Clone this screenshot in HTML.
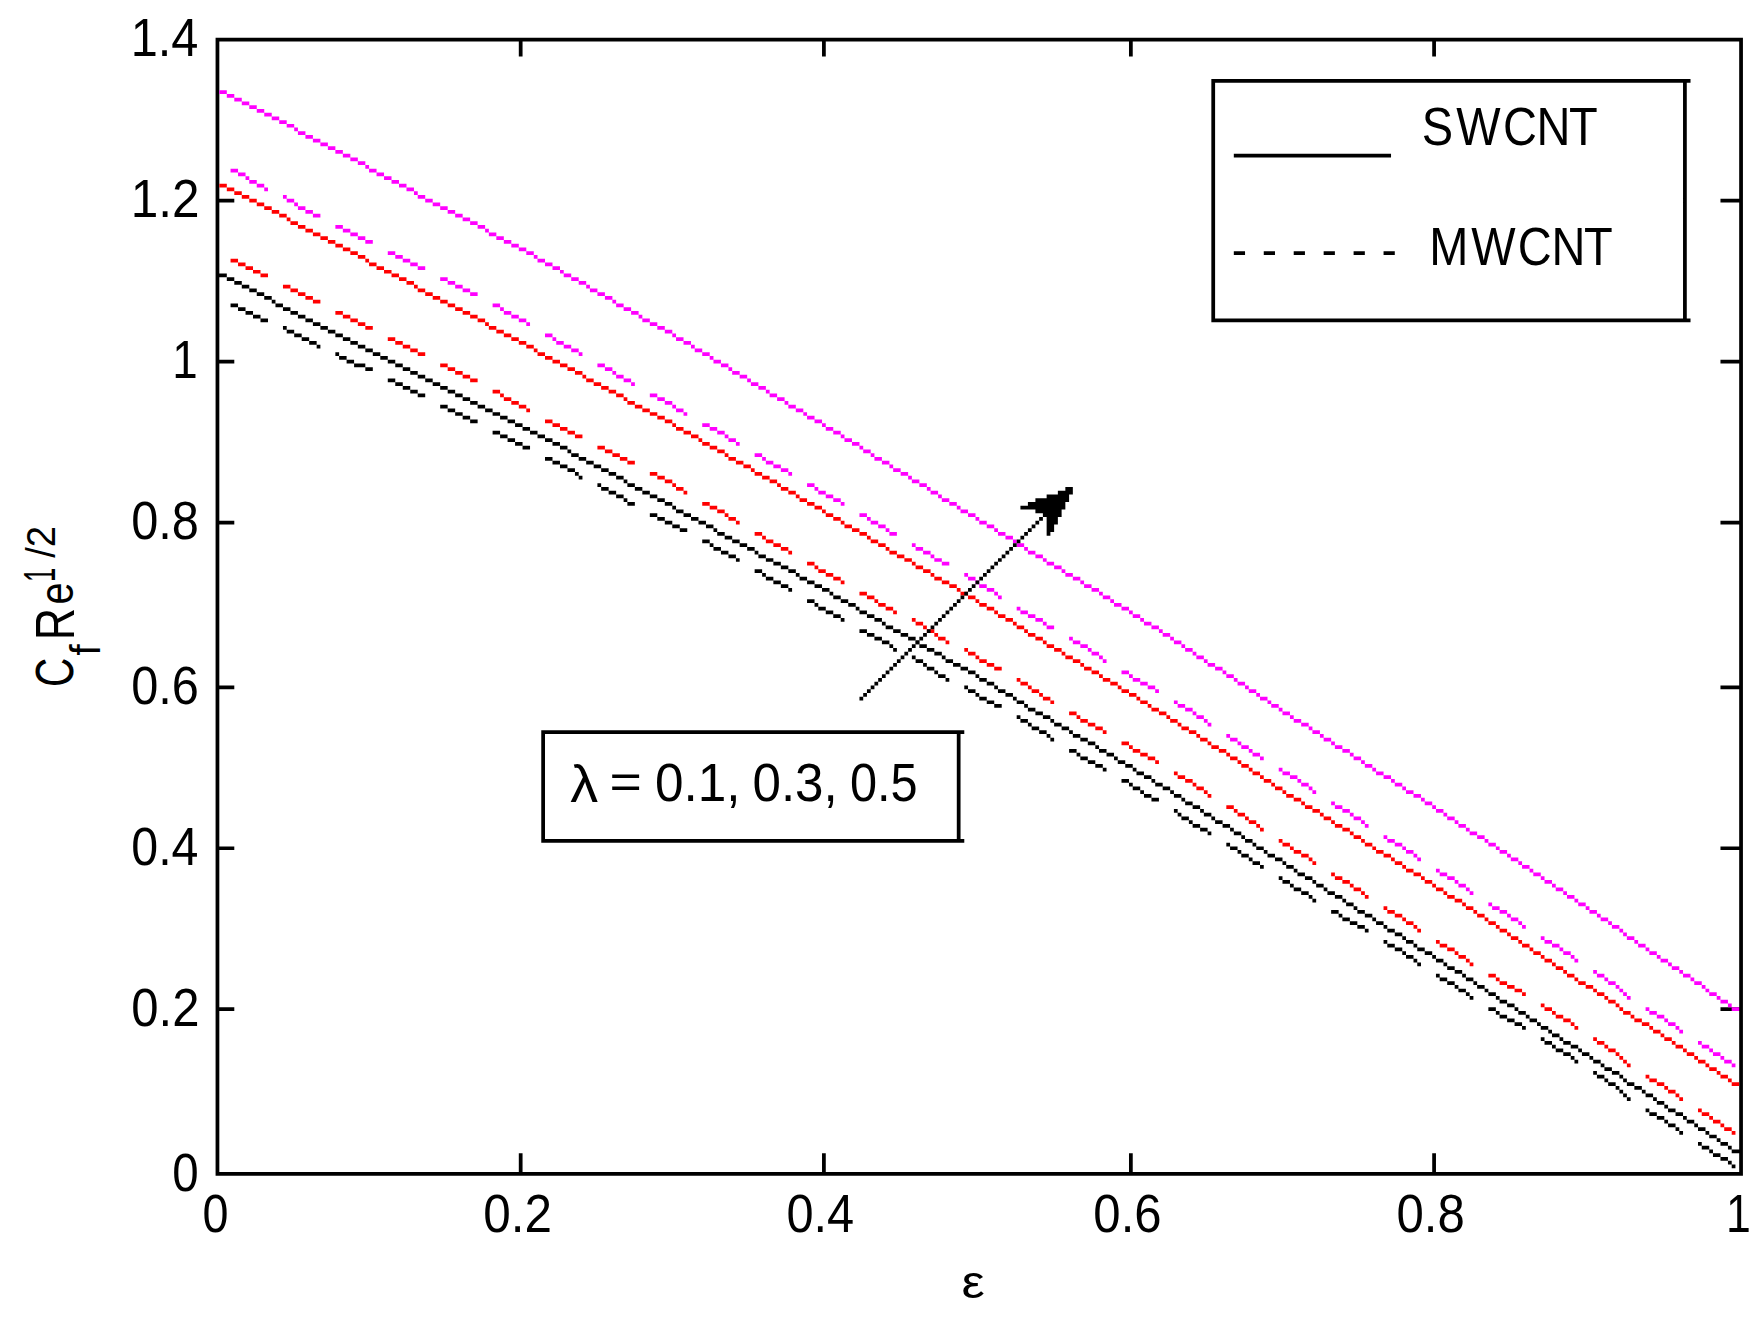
<!DOCTYPE html>
<html lang="en"><head><meta charset="utf-8"><title>Skin friction coefficient vs stretching parameter</title>
<style>html,body{margin:0;padding:0;background:#fff}svg{display:block}</style></head>
<body>
<svg width="1764" height="1329" viewBox="0 0 1764 1329">
<rect width="1764" height="1329" fill="#fff"/>
<g transform="translate(215.58,37.78) scale(3.7435)">
<path fill="#000" d="M0 0h408v1h-408zM0 303h408v1h-408zM0 0h1v304h-1zM407 0h1v304h-1zM81 1h1v4h-1zM81 298h1v5h-1zM162 1h1v4h-1zM162 298h1v5h-1zM244 1h1v4h-1zM244 298h1v5h-1zM325 1h1v4h-1zM325 298h1v5h-1zM1 43h4v1h-4zM402 43h5v1h-5zM1 86h4v1h-4zM402 86h5v1h-5zM1 129h4v1h-4zM402 129h5v1h-5zM1 173h4v1h-4zM402 173h5v1h-5zM1 216h4v1h-4zM402 216h5v1h-5zM1 259h4v1h-4zM402 259h5v1h-5zM1 63h2v1h-2zM3 64h2v1h-2zM5 65h2v1h-2zM7 66h2v1h-2zM9 67h2v1h-2zM11 68h2v1h-2zM13 69h2v1h-2zM15 70h1v1h-1zM16 71h2v1h-2zM18 72h2v1h-2zM20 73h2v1h-2zM22 74h2v1h-2zM24 75h2v1h-2zM26 76h2v1h-2zM28 77h2v1h-2zM30 78h2v1h-2zM32 79h2v1h-2zM34 80h2v1h-2zM36 81h2v1h-2zM38 82h2v1h-2zM40 83h2v1h-2zM42 84h2v1h-2zM44 85h2v1h-2zM46 86h2v1h-2zM48 87h2v1h-2zM50 88h2v1h-2zM52 89h2v1h-2zM54 90h2v1h-2zM56 91h2v1h-2zM58 92h2v1h-2zM60 93h2v1h-2zM62 94h2v1h-2zM64 95h2v1h-2zM66 96h2v1h-2zM68 97h2v1h-2zM70 98h2v1h-2zM72 99h2v1h-2zM74 100h2v1h-2zM76 101h2v1h-2zM78 102h2v1h-2zM80 103h2v1h-2zM82 104h2v1h-2zM84 105h2v1h-2zM86 106h2v1h-2zM88 107h2v1h-2zM90 108h2v1h-2zM92 109h2v1h-2zM94 110h1v1h-1zM95 111h2v1h-2zM97 112h2v1h-2zM99 113h2v1h-2zM101 114h2v1h-2zM103 115h2v1h-2zM105 116h2v1h-2zM107 117h2v1h-2zM109 118h1v1h-1zM110 119h2v1h-2zM112 120h2v1h-2zM114 121h2v1h-2zM116 122h2v1h-2zM118 123h2v1h-2zM120 124h2v1h-2zM122 125h1v1h-1zM123 126h2v1h-2zM125 127h2v1h-2zM127 128h2v1h-2zM129 129h2v1h-2zM131 130h2v1h-2zM133 131h1v1h-1zM134 132h2v1h-2zM136 133h2v1h-2zM138 134h2v1h-2zM140 135h2v1h-2zM142 136h2v1h-2zM144 137h1v1h-1zM145 138h2v1h-2zM147 139h2v1h-2zM149 140h2v1h-2zM151 141h2v1h-2zM153 142h2v1h-2zM155 143h1v1h-1zM156 144h2v1h-2zM158 145h2v1h-2zM160 146h2v1h-2zM162 147h2v1h-2zM164 148h1v1h-1zM165 149h2v1h-2zM167 150h2v1h-2zM169 151h2v1h-2zM171 152h1v1h-1zM172 153h2v1h-2zM174 154h2v1h-2zM176 155h2v1h-2zM178 156h1v1h-1zM179 157h2v1h-2zM181 158h2v1h-2zM183 159h2v1h-2zM185 160h2v1h-2zM187 161h1v1h-1zM188 162h2v1h-2zM190 163h2v1h-2zM192 164h2v1h-2zM194 165h1v1h-1zM195 166h2v1h-2zM197 167h2v1h-2zM199 168h2v1h-2zM201 169h2v1h-2zM203 170h1v1h-1zM204 171h2v1h-2zM206 172h2v1h-2zM208 173h1v1h-1zM209 174h2v1h-2zM211 175h2v1h-2zM213 176h1v1h-1zM214 177h2v1h-2zM216 178h1v1h-1zM217 179h2v1h-2zM219 180h2v1h-2zM221 181h2v1h-2zM223 182h1v1h-1zM224 183h2v1h-2zM226 184h2v1h-2zM228 185h1v1h-1zM229 186h2v1h-2zM231 187h2v1h-2zM233 188h2v1h-2zM235 189h1v1h-1zM236 190h2v1h-2zM238 191h2v1h-2zM240 192h1v1h-1zM241 193h2v1h-2zM243 194h2v1h-2zM245 195h1v1h-1zM246 196h2v1h-2zM248 197h2v1h-2zM250 198h1v1h-1zM251 199h2v1h-2zM253 200h2v1h-2zM255 201h1v1h-1zM256 202h2v1h-2zM258 203h1v1h-1zM259 204h2v1h-2zM261 205h2v1h-2zM263 206h1v1h-1zM264 207h2v1h-2zM266 208h1v1h-1zM267 209h2v1h-2zM269 210h2v1h-2zM271 211h1v1h-1zM272 212h2v1h-2zM274 213h1v1h-1zM275 214h2v1h-2zM277 215h1v1h-1zM278 216h2v1h-2zM280 217h1v1h-1zM281 218h2v1h-2zM283 219h2v1h-2zM285 220h1v1h-1zM286 221h2v1h-2zM288 222h1v1h-1zM289 223h2v1h-2zM291 224h2v1h-2zM293 225h1v1h-1zM294 226h2v1h-2zM296 227h1v1h-1zM297 228h2v1h-2zM299 229h2v1h-2zM301 230h1v1h-1zM302 231h2v1h-2zM304 232h1v1h-1zM305 233h2v1h-2zM307 234h2v1h-2zM309 235h1v1h-1zM310 236h2v1h-2zM312 237h1v1h-1zM313 238h2v1h-2zM315 239h2v1h-2zM317 240h1v1h-1zM318 241h2v1h-2zM320 242h1v1h-1zM321 243h2v1h-2zM323 244h2v1h-2zM325 245h1v1h-1zM326 246h2v1h-2zM328 247h1v1h-1zM329 248h2v1h-2zM331 249h2v1h-2zM333 250h1v1h-1zM334 251h2v1h-2zM336 252h1v1h-1zM337 253h2v1h-2zM339 254h1v1h-1zM340 255h2v1h-2zM342 256h1v1h-1zM343 257h2v1h-2zM345 258h2v1h-2zM347 259h1v1h-1zM348 260h2v1h-2zM350 261h1v1h-1zM351 262h2v1h-2zM353 263h1v1h-1zM354 264h2v1h-2zM356 265h1v1h-1zM357 266h2v1h-2zM359 267h1v1h-1zM360 268h2v1h-2zM362 269h2v1h-2zM364 270h1v1h-1zM365 271h2v1h-2zM367 272h1v1h-1zM368 273h2v1h-2zM370 274h1v1h-1zM371 275h2v1h-2zM373 276h2v1h-2zM375 277h1v1h-1zM376 278h1v1h-1zM377 279h2v1h-2zM379 280h2v1h-2zM381 281h1v1h-1zM382 282h2v1h-2zM384 283h1v1h-1zM385 284h2v1h-2zM387 285h1v1h-1zM388 286h2v1h-2zM390 287h2v1h-2zM392 288h1v1h-1zM393 289h2v1h-2zM395 290h1v1h-1zM396 291h2v1h-2zM398 292h1v1h-1zM399 293h2v1h-2zM401 294h1v1h-1zM402 295h2v1h-2zM404 296h1v1h-1zM405 297h2v1h-2zM4 71h2v1h-2zM6 72h2v1h-2zM8 73h2v1h-2zM10 74h2v1h-2zM12 75h2v1h-2zM18 77h1v1h-1zM19 78h2v1h-2zM21 79h2v1h-2zM23 80h2v1h-2zM25 81h2v1h-2zM27 82h1v1h-1zM32 84h1v1h-1zM33 85h2v1h-2zM35 86h2v1h-2zM37 87h3v1h-3zM40 88h2v1h-2zM46 91h2v1h-2zM48 92h2v1h-2zM50 93h2v1h-2zM52 94h2v1h-2zM54 95h2v1h-2zM60 98h2v1h-2zM62 99h2v1h-2zM64 100h2v1h-2zM66 101h2v1h-2zM68 102h2v1h-2zM74 105h2v1h-2zM76 106h2v1h-2zM78 107h2v1h-2zM80 108h2v1h-2zM82 109h2v1h-2zM88 112h2v1h-2zM90 113h2v1h-2zM92 114h2v1h-2zM94 115h2v1h-2zM96 116h1v1h-1zM97 117h1v1h-1zM102 119h1v1h-1zM103 120h2v1h-2zM105 121h2v1h-2zM107 122h2v1h-2zM109 123h1v1h-1zM110 124h2v1h-2zM116 127h2v1h-2zM118 128h2v1h-2zM120 129h2v1h-2zM122 130h2v1h-2zM124 131h2v1h-2zM130 134h2v1h-2zM132 135h1v1h-1zM133 136h2v1h-2zM135 137h2v1h-2zM137 138h2v1h-2zM139 139h1v1h-1zM144 142h2v1h-2zM146 143h1v1h-1zM147 144h2v1h-2zM149 145h2v1h-2zM151 146h2v1h-2zM153 147h1v1h-1zM158 150h2v1h-2zM160 151h1v1h-1zM161 152h2v1h-2zM163 153h2v1h-2zM165 154h2v1h-2zM167 155h1v1h-1zM172 158h2v1h-2zM174 159h2v1h-2zM176 160h2v1h-2zM178 161h2v1h-2zM180 162h1v1h-1zM181 163h1v1h-1zM186 165h1v1h-1zM187 166h2v1h-2zM189 167h1v1h-1zM190 168h2v1h-2zM192 169h1v1h-1zM193 170h2v1h-2zM195 171h1v1h-1zM200 173h1v1h-1zM201 174h2v1h-2zM203 175h1v1h-1zM204 176h2v1h-2zM206 177h2v1h-2zM208 178h2v1h-2zM214 181h1v1h-1zM215 182h2v1h-2zM217 183h1v1h-1zM218 184h2v1h-2zM220 185h2v1h-2zM222 186h1v1h-1zM223 187h1v1h-1zM228 190h2v1h-2zM230 191h1v1h-1zM231 192h2v1h-2zM233 193h2v1h-2zM235 194h2v1h-2zM237 195h1v1h-1zM242 198h2v1h-2zM244 199h1v1h-1zM245 200h2v1h-2zM247 201h1v1h-1zM248 202h2v1h-2zM250 203h2v1h-2zM256 206h1v1h-1zM257 207h1v1h-1zM258 208h2v1h-2zM260 209h1v1h-1zM261 210h2v1h-2zM263 211h2v1h-2zM265 212h1v1h-1zM270 215h1v1h-1zM271 216h2v1h-2zM273 217h1v1h-1zM274 218h2v1h-2zM276 219h1v1h-1zM277 220h2v1h-2zM279 221h1v1h-1zM284 224h1v1h-1zM285 225h2v1h-2zM287 226h1v1h-1zM288 227h2v1h-2zM290 228h2v1h-2zM292 229h1v1h-1zM293 230h1v1h-1zM298 233h2v1h-2zM300 234h1v1h-1zM301 235h2v1h-2zM303 236h2v1h-2zM305 237h2v1h-2zM307 238h1v1h-1zM312 241h1v1h-1zM313 242h2v1h-2zM315 243h2v1h-2zM317 244h1v1h-1zM318 245h2v1h-2zM320 246h1v1h-1zM321 247h1v1h-1zM326 250h1v1h-1zM327 251h2v1h-2zM329 252h2v1h-2zM331 253h1v1h-1zM332 254h2v1h-2zM334 255h1v1h-1zM335 256h1v1h-1zM340 259h2v1h-2zM342 260h1v1h-1zM343 261h2v1h-2zM345 262h2v1h-2zM347 263h2v1h-2zM349 264h1v1h-1zM354 267h1v1h-1zM355 268h2v1h-2zM357 269h1v1h-1zM358 270h2v1h-2zM360 271h2v1h-2zM362 272h1v1h-1zM363 273h1v1h-1zM368 276h1v1h-1zM369 277h2v1h-2zM371 278h1v1h-1zM372 279h2v1h-2zM374 280h1v1h-1zM375 281h1v1h-1zM376 282h1v1h-1zM377 283h1v1h-1zM382 286h1v1h-1zM383 287h2v1h-2zM385 288h2v1h-2zM387 289h1v1h-1zM388 290h2v1h-2zM390 291h1v1h-1zM391 292h1v1h-1zM396 295h1v1h-1zM397 296h2v1h-2zM399 297h1v1h-1zM400 298h2v1h-2zM402 299h2v1h-2zM404 300h1v1h-1zM405 301h1v1h-1zM266 11h128v1h-128zM266 75h128v1h-128zM266 11h1v65h-1zM392 11h1v65h-1zM272 31h42v1h-42zM272 57h3v1h-3zM280 57h3v1h-3zM288 57h3v1h-3zM296 57h3v1h-3zM304 57h3v1h-3zM312 57h3v1h-3zM87 185h113v1h-113zM87 214h113v1h-113zM87 185h1v30h-1zM198 185h1v30h-1z"/>
<path fill="#f00" d="M1 39h2v1h-2zM3 40h2v1h-2zM5 41h2v1h-2zM7 42h2v1h-2zM9 43h2v1h-2zM11 44h2v1h-2zM13 45h2v1h-2zM15 46h2v1h-2zM17 47h2v1h-2zM19 48h1v1h-1zM20 49h2v1h-2zM22 50h2v1h-2zM24 51h2v1h-2zM26 52h2v1h-2zM28 53h2v1h-2zM30 54h2v1h-2zM32 55h2v1h-2zM34 56h2v1h-2zM36 57h2v1h-2zM38 58h2v1h-2zM40 59h1v1h-1zM41 60h2v1h-2zM43 61h2v1h-2zM45 62h2v1h-2zM47 63h2v1h-2zM49 64h2v1h-2zM51 65h2v1h-2zM53 66h1v1h-1zM54 67h2v1h-2zM56 68h2v1h-2zM58 69h2v1h-2zM60 70h2v1h-2zM62 71h2v1h-2zM64 72h2v1h-2zM66 73h2v1h-2zM68 74h2v1h-2zM70 75h2v1h-2zM72 76h1v1h-1zM73 77h2v1h-2zM75 78h2v1h-2zM77 79h2v1h-2zM79 80h2v1h-2zM81 81h2v1h-2zM83 82h2v1h-2zM85 83h1v1h-1zM86 84h2v1h-2zM88 85h2v1h-2zM90 86h2v1h-2zM92 87h2v1h-2zM94 88h2v1h-2zM96 89h2v1h-2zM98 90h1v1h-1zM99 91h2v1h-2zM101 92h2v1h-2zM103 93h2v1h-2zM105 94h2v1h-2zM107 95h2v1h-2zM109 96h1v1h-1zM110 97h2v1h-2zM112 98h2v1h-2zM114 99h2v1h-2zM116 100h2v1h-2zM118 101h2v1h-2zM120 102h2v1h-2zM122 103h1v1h-1zM123 104h2v1h-2zM125 105h2v1h-2zM127 106h2v1h-2zM129 107h1v1h-1zM130 108h2v1h-2zM132 109h2v1h-2zM134 110h2v1h-2zM136 111h1v1h-1zM137 112h2v1h-2zM139 113h2v1h-2zM141 114h2v1h-2zM143 115h1v1h-1zM144 116h2v1h-2zM146 117h2v1h-2zM148 118h2v1h-2zM150 119h1v1h-1zM151 120h2v1h-2zM153 121h2v1h-2zM155 122h1v1h-1zM156 123h2v1h-2zM158 124h2v1h-2zM160 125h2v1h-2zM162 126h1v1h-1zM163 127h2v1h-2zM165 128h2v1h-2zM167 129h1v1h-1zM168 130h2v1h-2zM170 131h2v1h-2zM172 132h2v1h-2zM174 133h1v1h-1zM175 134h2v1h-2zM177 135h2v1h-2zM179 136h1v1h-1zM180 137h2v1h-2zM182 138h2v1h-2zM184 139h2v1h-2zM186 140h1v1h-1zM187 141h2v1h-2zM189 142h2v1h-2zM191 143h1v1h-1zM192 144h2v1h-2zM194 145h2v1h-2zM196 146h2v1h-2zM198 147h1v1h-1zM199 148h2v1h-2zM201 149h2v1h-2zM203 150h1v1h-1zM204 151h2v1h-2zM206 152h2v1h-2zM208 153h1v1h-1zM209 154h2v1h-2zM211 155h2v1h-2zM213 156h1v1h-1zM214 157h2v1h-2zM216 158h1v1h-1zM217 159h2v1h-2zM219 160h2v1h-2zM221 161h1v1h-1zM222 162h2v1h-2zM224 163h2v1h-2zM226 164h1v1h-1zM227 165h2v1h-2zM229 166h2v1h-2zM231 167h1v1h-1zM232 168h2v1h-2zM234 169h2v1h-2zM236 170h1v1h-1zM237 171h2v1h-2zM239 172h2v1h-2zM241 173h1v1h-1zM242 174h2v1h-2zM244 175h2v1h-2zM246 176h1v1h-1zM247 177h2v1h-2zM249 178h1v1h-1zM250 179h2v1h-2zM252 180h2v1h-2zM254 181h1v1h-1zM255 182h2v1h-2zM257 183h1v1h-1zM258 184h2v1h-2zM260 185h2v1h-2zM262 186h1v1h-1zM263 187h2v1h-2zM265 188h1v1h-1zM266 189h2v1h-2zM268 190h2v1h-2zM270 191h1v1h-1zM271 192h2v1h-2zM273 193h1v1h-1zM274 194h2v1h-2zM276 195h1v1h-1zM277 196h2v1h-2zM279 197h1v1h-1zM280 198h2v1h-2zM282 199h1v1h-1zM283 200h2v1h-2zM285 201h1v1h-1zM286 202h2v1h-2zM288 203h2v1h-2zM290 204h1v1h-1zM291 205h2v1h-2zM293 206h2v1h-2zM295 207h1v1h-1zM296 208h2v1h-2zM298 209h1v1h-1zM299 210h2v1h-2zM301 211h2v1h-2zM303 212h1v1h-1zM304 213h2v1h-2zM306 214h1v1h-1zM307 215h2v1h-2zM309 216h1v1h-1zM310 217h2v1h-2zM312 218h2v1h-2zM314 219h1v1h-1zM315 220h2v1h-2zM317 221h1v1h-1zM318 222h2v1h-2zM320 223h2v1h-2zM322 224h1v1h-1zM323 225h2v1h-2zM325 226h1v1h-1zM326 227h2v1h-2zM328 228h1v1h-1zM329 229h2v1h-2zM331 230h2v1h-2zM333 231h1v1h-1zM334 232h2v1h-2zM336 233h1v1h-1zM337 234h2v1h-2zM339 235h1v1h-1zM340 236h2v1h-2zM342 237h1v1h-1zM343 238h2v1h-2zM345 239h1v1h-1zM346 240h2v1h-2zM348 241h1v1h-1zM349 242h2v1h-2zM351 243h1v1h-1zM352 244h2v1h-2zM354 245h1v1h-1zM355 246h2v1h-2zM357 247h1v1h-1zM358 248h2v1h-2zM360 249h1v1h-1zM361 250h2v1h-2zM363 251h1v1h-1zM364 252h2v1h-2zM366 253h2v1h-2zM368 254h1v1h-1zM369 255h2v1h-2zM371 256h1v1h-1zM372 257h2v1h-2zM374 258h1v1h-1zM375 259h1v1h-1zM376 260h2v1h-2zM378 261h1v1h-1zM379 262h2v1h-2zM381 263h2v1h-2zM383 264h1v1h-1zM384 265h2v1h-2zM386 266h1v1h-1zM387 267h2v1h-2zM389 268h1v1h-1zM390 269h2v1h-2zM392 270h1v1h-1zM393 271h2v1h-2zM395 272h1v1h-1zM396 273h2v1h-2zM398 274h1v1h-1zM399 275h2v1h-2zM401 276h1v1h-1zM402 277h2v1h-2zM404 278h1v1h-1zM405 279h2v1h-2zM4 59h2v1h-2zM6 60h2v1h-2zM8 61h2v1h-2zM10 62h2v1h-2zM12 63h2v1h-2zM18 66h2v1h-2zM20 67h2v1h-2zM22 68h2v1h-2zM24 69h2v1h-2zM26 70h2v1h-2zM32 73h2v1h-2zM34 74h2v1h-2zM36 75h2v1h-2zM38 76h2v1h-2zM40 77h2v1h-2zM46 80h2v1h-2zM48 81h2v1h-2zM50 82h2v1h-2zM52 83h2v1h-2zM54 84h2v1h-2zM60 87h2v1h-2zM62 88h2v1h-2zM64 89h2v1h-2zM66 90h2v1h-2zM68 91h2v1h-2zM74 94h2v1h-2zM76 95h1v1h-1zM77 96h2v1h-2zM79 97h2v1h-2zM81 98h2v1h-2zM83 99h1v1h-1zM88 102h2v1h-2zM90 103h2v1h-2zM92 104h2v1h-2zM94 105h2v1h-2zM96 106h2v1h-2zM102 109h2v1h-2zM104 110h2v1h-2zM106 111h2v1h-2zM108 112h2v1h-2zM110 113h2v1h-2zM116 116h2v1h-2zM118 117h2v1h-2zM120 118h2v1h-2zM122 119h1v1h-1zM123 120h2v1h-2zM125 121h1v1h-1zM130 124h2v1h-2zM132 125h2v1h-2zM134 126h2v1h-2zM136 127h1v1h-1zM137 128h2v1h-2zM139 129h1v1h-1zM144 132h2v1h-2zM146 133h1v1h-1zM147 134h2v1h-2zM149 135h2v1h-2zM151 136h2v1h-2zM153 137h1v1h-1zM158 140h2v1h-2zM160 141h1v1h-1zM161 142h2v1h-2zM163 143h2v1h-2zM165 144h2v1h-2zM167 145h1v1h-1zM172 148h2v1h-2zM174 149h2v1h-2zM176 150h1v1h-1zM177 151h2v1h-2zM179 152h2v1h-2zM181 153h1v1h-1zM186 155h1v1h-1zM187 156h2v1h-2zM189 157h1v1h-1zM190 158h2v1h-2zM192 159h1v1h-1zM193 160h2v1h-2zM195 161h1v1h-1zM200 163h1v1h-1zM201 164h2v1h-2zM203 165h1v1h-1zM204 166h2v1h-2zM206 167h2v1h-2zM208 168h2v1h-2zM214 171h1v1h-1zM215 172h2v1h-2zM217 173h1v1h-1zM218 174h2v1h-2zM220 175h1v1h-1zM221 176h2v1h-2zM223 177h1v1h-1zM228 180h2v1h-2zM230 181h1v1h-1zM231 182h2v1h-2zM233 183h2v1h-2zM235 184h2v1h-2zM237 185h1v1h-1zM242 188h2v1h-2zM244 189h1v1h-1zM245 190h2v1h-2zM247 191h2v1h-2zM249 192h2v1h-2zM251 193h1v1h-1zM256 196h1v1h-1zM257 197h2v1h-2zM259 198h2v1h-2zM261 199h1v1h-1zM262 200h2v1h-2zM264 201h1v1h-1zM265 202h1v1h-1zM270 205h2v1h-2zM272 206h1v1h-1zM273 207h2v1h-2zM275 208h1v1h-1zM276 209h2v1h-2zM278 210h1v1h-1zM279 211h1v1h-1zM284 214h1v1h-1zM285 215h2v1h-2zM287 216h1v1h-1zM288 217h2v1h-2zM290 218h2v1h-2zM292 219h1v1h-1zM293 220h1v1h-1zM298 223h1v1h-1zM299 224h2v1h-2zM301 225h2v1h-2zM303 226h1v1h-1zM304 227h2v1h-2zM306 228h1v1h-1zM307 229h1v1h-1zM312 232h1v1h-1zM313 233h2v1h-2zM315 234h2v1h-2zM317 235h1v1h-1zM318 236h2v1h-2zM320 237h1v1h-1zM321 238h1v1h-1zM326 241h1v1h-1zM327 242h2v1h-2zM329 243h2v1h-2zM331 244h1v1h-1zM332 245h2v1h-2zM334 246h1v1h-1zM335 247h1v1h-1zM340 250h2v1h-2zM342 251h1v1h-1zM343 252h2v1h-2zM345 253h2v1h-2zM347 254h2v1h-2zM349 255h1v1h-1zM354 258h1v1h-1zM355 259h2v1h-2zM357 260h1v1h-1zM358 261h2v1h-2zM360 262h2v1h-2zM362 263h1v1h-1zM363 264h1v1h-1zM368 267h1v1h-1zM369 268h2v1h-2zM371 269h1v1h-1zM372 270h2v1h-2zM374 271h1v1h-1zM375 272h1v1h-1zM376 273h1v1h-1zM377 274h1v1h-1zM382 277h1v1h-1zM383 278h2v1h-2zM385 279h2v1h-2zM387 280h1v1h-1zM388 281h2v1h-2zM390 282h1v1h-1zM391 283h1v1h-1zM396 286h1v1h-1zM397 287h2v1h-2zM399 288h1v1h-1zM400 289h2v1h-2zM402 290h1v1h-1zM403 291h2v1h-2zM405 292h1v1h-1z"/>
<path fill="#f0f" d="M1 14h2v1h-2zM3 15h2v1h-2zM5 16h2v1h-2zM7 17h2v1h-2zM9 18h2v1h-2zM11 19h2v1h-2zM13 20h2v1h-2zM15 21h2v1h-2zM17 22h2v1h-2zM19 23h2v1h-2zM21 24h1v1h-1zM22 25h2v1h-2zM24 26h2v1h-2zM26 27h2v1h-2zM28 28h2v1h-2zM30 29h2v1h-2zM32 30h2v1h-2zM34 31h2v1h-2zM36 32h2v1h-2zM38 33h2v1h-2zM40 34h1v1h-1zM41 35h2v1h-2zM43 36h2v1h-2zM45 37h2v1h-2zM47 38h2v1h-2zM49 39h2v1h-2zM51 40h2v1h-2zM53 41h1v1h-1zM54 42h2v1h-2zM56 43h2v1h-2zM58 44h2v1h-2zM60 45h2v1h-2zM62 46h2v1h-2zM64 47h2v1h-2zM66 48h2v1h-2zM68 49h2v1h-2zM70 50h2v1h-2zM72 51h1v1h-1zM73 52h2v1h-2zM75 53h2v1h-2zM77 54h2v1h-2zM79 55h2v1h-2zM81 56h2v1h-2zM83 57h2v1h-2zM85 58h1v1h-1zM86 59h2v1h-2zM88 60h2v1h-2zM90 61h2v1h-2zM92 62h1v1h-1zM93 63h2v1h-2zM95 64h2v1h-2zM97 65h2v1h-2zM99 66h1v1h-1zM100 67h2v1h-2zM102 68h2v1h-2zM104 69h2v1h-2zM106 70h1v1h-1zM107 71h2v1h-2zM109 72h2v1h-2zM111 73h2v1h-2zM113 74h1v1h-1zM114 75h2v1h-2zM116 76h2v1h-2zM118 77h2v1h-2zM120 78h2v1h-2zM122 79h1v1h-1zM123 80h2v1h-2zM125 81h2v1h-2zM127 82h1v1h-1zM128 83h2v1h-2zM130 84h2v1h-2zM132 85h1v1h-1zM133 86h2v1h-2zM135 87h2v1h-2zM137 88h1v1h-1zM138 89h2v1h-2zM140 90h2v1h-2zM142 91h1v1h-1zM143 92h2v1h-2zM145 93h2v1h-2zM147 94h1v1h-1zM148 95h2v1h-2zM150 96h2v1h-2zM152 97h1v1h-1zM153 98h2v1h-2zM155 99h2v1h-2zM157 100h1v1h-1zM158 101h2v1h-2zM160 102h2v1h-2zM162 103h1v1h-1zM163 104h2v1h-2zM165 105h2v1h-2zM167 106h1v1h-1zM168 107h2v1h-2zM170 108h2v1h-2zM172 109h1v1h-1zM173 110h2v1h-2zM175 111h1v1h-1zM176 112h2v1h-2zM178 113h2v1h-2zM180 114h1v1h-1zM181 115h2v1h-2zM183 116h2v1h-2zM185 117h1v1h-1zM186 118h2v1h-2zM188 119h2v1h-2zM190 120h1v1h-1zM191 121h2v1h-2zM193 122h1v1h-1zM194 123h2v1h-2zM196 124h2v1h-2zM198 125h1v1h-1zM199 126h2v1h-2zM201 127h2v1h-2zM203 128h1v1h-1zM204 129h2v1h-2zM206 130h2v1h-2zM208 131h1v1h-1zM209 132h2v1h-2zM211 133h2v1h-2zM213 134h1v1h-1zM214 135h2v1h-2zM216 136h1v1h-1zM217 137h2v1h-2zM219 138h2v1h-2zM221 139h1v1h-1zM222 140h2v1h-2zM224 141h2v1h-2zM226 142h1v1h-1zM227 143h2v1h-2zM229 144h2v1h-2zM231 145h1v1h-1zM232 146h2v1h-2zM234 147h2v1h-2zM236 148h1v1h-1zM237 149h2v1h-2zM239 150h1v1h-1zM240 151h2v1h-2zM242 152h2v1h-2zM244 153h1v1h-1zM245 154h2v1h-2zM247 155h1v1h-1zM248 156h2v1h-2zM250 157h2v1h-2zM252 158h1v1h-1zM253 159h2v1h-2zM255 160h1v1h-1zM256 161h2v1h-2zM258 162h1v1h-1zM259 163h2v1h-2zM261 164h1v1h-1zM262 165h2v1h-2zM264 166h1v1h-1zM265 167h2v1h-2zM267 168h2v1h-2zM269 169h1v1h-1zM270 170h2v1h-2zM272 171h1v1h-1zM273 172h2v1h-2zM275 173h1v1h-1zM276 174h2v1h-2zM278 175h1v1h-1zM279 176h2v1h-2zM281 177h1v1h-1zM282 178h2v1h-2zM284 179h1v1h-1zM285 180h2v1h-2zM287 181h1v1h-1zM288 182h2v1h-2zM290 183h2v1h-2zM292 184h1v1h-1zM293 185h2v1h-2zM295 186h1v1h-1zM296 187h2v1h-2zM298 188h1v1h-1zM299 189h2v1h-2zM301 190h2v1h-2zM303 191h1v1h-1zM304 192h2v1h-2zM306 193h1v1h-1zM307 194h2v1h-2zM309 195h1v1h-1zM310 196h2v1h-2zM312 197h2v1h-2zM314 198h1v1h-1zM315 199h2v1h-2zM317 200h1v1h-1zM318 201h2v1h-2zM320 202h2v1h-2zM322 203h1v1h-1zM323 204h2v1h-2zM325 205h1v1h-1zM326 206h2v1h-2zM328 207h1v1h-1zM329 208h2v1h-2zM331 209h1v1h-1zM332 210h2v1h-2zM334 211h1v1h-1zM335 212h2v1h-2zM337 213h2v1h-2zM339 214h1v1h-1zM340 215h2v1h-2zM342 216h1v1h-1zM343 217h2v1h-2zM345 218h1v1h-1zM346 219h2v1h-2zM348 220h1v1h-1zM349 221h2v1h-2zM351 222h1v1h-1zM352 223h2v1h-2zM354 224h1v1h-1zM355 225h2v1h-2zM357 226h1v1h-1zM358 227h2v1h-2zM360 228h1v1h-1zM361 229h2v1h-2zM363 230h1v1h-1zM364 231h2v1h-2zM366 232h1v1h-1zM367 233h2v1h-2zM369 234h1v1h-1zM370 235h2v1h-2zM372 236h1v1h-1zM373 237h2v1h-2zM375 238h1v1h-1zM376 239h1v1h-1zM377 240h2v1h-2zM379 241h1v1h-1zM380 242h2v1h-2zM382 243h1v1h-1zM383 244h2v1h-2zM385 245h1v1h-1zM386 246h2v1h-2zM388 247h1v1h-1zM389 248h2v1h-2zM391 249h1v1h-1zM392 250h2v1h-2zM394 251h1v1h-1zM395 252h2v1h-2zM397 253h1v1h-1zM398 254h1v1h-1zM399 255h2v1h-2zM401 256h1v1h-1zM402 257h2v1h-2zM404 258h1v1h-1zM405 259h2v1h-2zM4 35h2v1h-2zM6 36h2v1h-2zM8 37h1v1h-1zM9 38h2v1h-2zM11 39h2v1h-2zM13 40h1v1h-1zM18 42h1v1h-1zM19 43h2v1h-2zM21 44h1v1h-1zM22 45h2v1h-2zM24 46h2v1h-2zM26 47h2v1h-2zM32 50h2v1h-2zM34 51h2v1h-2zM36 52h2v1h-2zM38 53h2v1h-2zM40 54h2v1h-2zM46 57h2v1h-2zM48 58h2v1h-2zM50 59h2v1h-2zM52 60h2v1h-2zM54 61h2v1h-2zM60 64h2v1h-2zM62 65h2v1h-2zM64 66h2v1h-2zM66 67h2v1h-2zM68 68h2v1h-2zM74 71h2v1h-2zM76 72h1v1h-1zM77 73h2v1h-2zM79 74h2v1h-2zM81 75h2v1h-2zM83 76h1v1h-1zM88 79h2v1h-2zM90 80h1v1h-1zM91 81h2v1h-2zM93 82h2v1h-2zM95 83h2v1h-2zM97 84h1v1h-1zM102 87h2v1h-2zM104 88h2v1h-2zM106 89h1v1h-1zM107 90h2v1h-2zM109 91h2v1h-2zM111 92h1v1h-1zM116 95h2v1h-2zM118 96h2v1h-2zM120 97h2v1h-2zM122 98h1v1h-1zM123 99h2v1h-2zM125 100h1v1h-1zM130 103h2v1h-2zM132 104h2v1h-2zM134 105h2v1h-2zM136 106h1v1h-1zM137 107h2v1h-2zM139 108h1v1h-1zM144 111h2v1h-2zM146 112h1v1h-1zM147 113h2v1h-2zM149 114h2v1h-2zM151 115h2v1h-2zM153 116h1v1h-1zM158 119h2v1h-2zM160 120h1v1h-1zM161 121h2v1h-2zM163 122h2v1h-2zM165 123h2v1h-2zM167 124h1v1h-1zM172 127h2v1h-2zM174 128h1v1h-1zM175 129h2v1h-2zM177 130h2v1h-2zM179 131h1v1h-1zM180 132h2v1h-2zM186 135h1v1h-1zM187 136h2v1h-2zM189 137h2v1h-2zM191 138h1v1h-1zM192 139h2v1h-2zM194 140h2v1h-2zM200 143h1v1h-1zM201 144h2v1h-2zM203 145h1v1h-1zM204 146h2v1h-2zM206 147h2v1h-2zM208 148h1v1h-1zM209 149h1v1h-1zM214 152h1v1h-1zM215 153h2v1h-2zM217 154h2v1h-2zM219 155h2v1h-2zM221 156h1v1h-1zM222 157h2v1h-2zM228 160h1v1h-1zM229 161h2v1h-2zM231 162h2v1h-2zM233 163h1v1h-1zM234 164h2v1h-2zM236 165h1v1h-1zM237 166h1v1h-1zM242 169h2v1h-2zM244 170h1v1h-1zM245 171h2v1h-2zM247 172h2v1h-2zM249 173h2v1h-2zM251 174h1v1h-1zM256 177h1v1h-1zM257 178h2v1h-2zM259 179h2v1h-2zM261 180h1v1h-1zM262 181h2v1h-2zM264 182h1v1h-1zM265 183h1v1h-1zM270 186h1v1h-1zM271 187h2v1h-2zM273 188h1v1h-1zM274 189h2v1h-2zM276 190h1v1h-1zM277 191h2v1h-2zM279 192h1v1h-1zM284 195h1v1h-1zM285 196h2v1h-2zM287 197h2v1h-2zM289 198h1v1h-1zM290 199h2v1h-2zM292 200h1v1h-1zM293 201h1v1h-1zM298 204h1v1h-1zM299 205h2v1h-2zM301 206h2v1h-2zM303 207h1v1h-1zM304 208h2v1h-2zM306 209h1v1h-1zM307 210h1v1h-1zM312 213h1v1h-1zM313 214h2v1h-2zM315 215h2v1h-2zM317 216h1v1h-1zM318 217h2v1h-2zM320 218h1v1h-1zM321 219h1v1h-1zM326 222h1v1h-1zM327 223h2v1h-2zM329 224h2v1h-2zM331 225h1v1h-1zM332 226h2v1h-2zM334 227h1v1h-1zM335 228h1v1h-1zM340 231h1v1h-1zM341 232h2v1h-2zM343 233h2v1h-2zM345 234h1v1h-1zM346 235h2v1h-2zM348 236h1v1h-1zM349 237h1v1h-1zM354 240h1v1h-1zM355 241h2v1h-2zM357 242h2v1h-2zM359 243h1v1h-1zM360 244h2v1h-2zM362 245h1v1h-1zM363 246h1v1h-1zM368 249h1v1h-1zM369 250h2v1h-2zM371 251h1v1h-1zM372 252h2v1h-2zM374 253h1v1h-1zM375 254h1v1h-1zM376 255h1v1h-1zM377 256h1v1h-1zM382 259h1v1h-1zM383 260h2v1h-2zM385 261h2v1h-2zM387 262h1v1h-1zM388 263h2v1h-2zM390 264h1v1h-1zM391 265h1v1h-1zM396 268h1v1h-1zM397 269h2v1h-2zM399 270h1v1h-1zM400 271h2v1h-2zM402 272h1v1h-1zM403 273h2v1h-2zM405 274h1v1h-1z"/>
<path fill="#000" d="M220 128h1v1h-1zM219 129h1v1h-1zM218 130h1v1h-1zM217 131h1v1h-1zM216 132h1v1h-1zM215 133h1v1h-1zM214 134h1v1h-1zM213 135h1v1h-1zM212 136h1v1h-1zM211 137h1v1h-1zM210 138h1v1h-1zM209 139h1v1h-1zM208 140h1v1h-1zM207 141h1v1h-1zM206 142h1v1h-1zM205 143h1v1h-1zM204 144h1v1h-1zM203 145h1v1h-1zM202 146h1v1h-1zM201 147h1v1h-1zM200 148h1v1h-1zM199 149h1v1h-1zM198 150h1v1h-1zM197 151h1v1h-1zM196 152h1v1h-1zM195 153h1v1h-1zM194 154h1v1h-1zM193 155h1v1h-1zM192 156h1v1h-1zM191 157h1v1h-1zM190 158h1v1h-1zM189 159h1v1h-1zM188 160h1v1h-1zM187 161h1v1h-1zM186 162h1v1h-1zM185 163h1v1h-1zM184 164h1v1h-1zM183 165h1v1h-1zM182 166h1v1h-1zM181 167h1v1h-1zM180 168h1v1h-1zM179 169h1v1h-1zM178 170h1v1h-1zM177 171h1v1h-1zM176 172h1v1h-1zM175 173h1v1h-1zM174 174h1v1h-1zM173 175h1v1h-1zM172 176h1v1h-1zM227 120h2v1h-2zM225 121h4v1h-4zM222 122h6v1h-6zM219 123h9v1h-9zM217 124h10v1h-10zM215 125h12v1h-12zM219 126h7v1h-7zM221 127h5v1h-5zM222 128h3v1h-3zM222 129h3v1h-3zM222 130h2v1h-2zM222 131h2v1h-2zM222 132h1v1h-1z"/>
</g>
<g font-family="'Liberation Sans', Arial, Helvetica, sans-serif" font-size="50" fill="#000">
<text transform="matrix(0.9742 0 0 1.0620 130.75 56.23)">1.4</text>
<text transform="matrix(0.9902 0 0 1.0620 130.66 217.20)">1.2</text>
<text transform="matrix(0.9154 0 0 1.0620 172.21 378.17)">1</text>
<text transform="matrix(0.9740 0 0 1.0620 131.25 539.14)">0.8</text>
<text transform="matrix(0.9740 0 0 1.0620 131.25 703.86)">0.6</text>
<text transform="matrix(0.9667 0 0 1.0620 131.27 864.83)">0.4</text>
<text transform="matrix(0.9815 0 0 1.0620 131.24 1025.80)">0.2</text>
<text transform="matrix(0.9500 0 0 1.0620 172.30 1190.51)">0</text>
<text transform="matrix(0.9359 0 0 1.0620 202.48 1231.69)">0</text>
<text transform="matrix(0.9898 0 0 1.0620 483.13 1231.69)">0.2</text>
<text transform="matrix(0.9748 0 0 1.0620 786.39 1231.69)">0.4</text>
<text transform="matrix(0.9823 0 0 1.0620 1093.34 1231.69)">0.6</text>
<text transform="matrix(0.9823 0 0 1.0620 1396.56 1231.69)">0.8</text>
<text transform="matrix(0.8923 0 0 1.0620 1725.95 1231.69)">1</text>
<text transform="matrix(0.9400 0 0 1.0620 0 145.47)" x="1512.40 1549.23 1598.82 1634.55 1669.22">SWCNT</text>
<text transform="matrix(0.9400 0 0 1.0592 0 265.37)" x="1520.53 1565.13 1614.57 1650.51 1685.23">MWCNT</text>
<text transform="matrix(1.1167 0 0 1.0472 570.24 802.12)">λ</text>
<text transform="matrix(1.1083 0 0 0.9688 609.43 798.43)">=</text>
<text transform="matrix(1.0260 0 0 1.0695 654.95 801.33)">0.1,</text>
<text transform="matrix(1.0221 0 0 1.0695 752.46 801.33)">0.3,</text>
<text transform="matrix(0.9740 0 0 1.0695 849.95 801.33)">0.5</text>
<text transform="matrix(1.0410 0 0 0.9309 961.44 1298.13)">ε</text>
<text transform="matrix(0 -0.8095 1.0648 0 72.97 687.02)">C</text>
<text transform="matrix(0 -0.8074 0.8361 0 100.22 655.50)">f</text>
<text transform="matrix(0 -0.8949 1.1118 0 74.06 640.18)">R</text>
<text transform="matrix(0 -0.7957 0.9600 0 73.02 604.49)">e</text>
<text transform="matrix(0 -0.5163 0.8725 0 54.80 582.07)">1</text>
<text transform="matrix(0 -0.7641 0.8247 0 54.80 557.80)">/2</text>
</g></svg>
</body></html>
